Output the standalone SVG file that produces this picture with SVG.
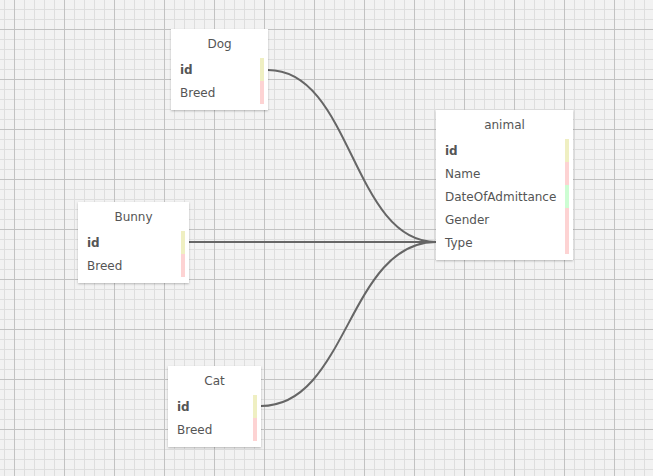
<svg xmlns="http://www.w3.org/2000/svg" width="653" height="476" viewBox="0 0 653 476">
<defs>
<pattern id="minor" x="4" y="9" width="10" height="10" patternUnits="userSpaceOnUse">
<rect x="0" y="0" width="1" height="10" fill="#dedede"/>
<rect x="0" y="0" width="10" height="1" fill="#dedede"/>
</pattern>
<pattern id="major" x="14" y="29" width="50" height="50" patternUnits="userSpaceOnUse">
<rect x="0" y="0" width="1" height="50" fill="#c2c2c2"/>
<rect x="0" y="0" width="50" height="1" fill="#c2c2c2"/>
</pattern>
<filter id="sh" x="-10%" y="-10%" width="120%" height="120%">
<feDropShadow dx="0" dy="1" stdDeviation="1.2" flood-color="#000" flood-opacity="0.25"/>
</filter>
</defs>
<style>
.box{fill:#fff;filter:url(#sh)}
.title{font-family:"DejaVu Sans",Verdana,sans-serif;font-size:12px;fill:#555;text-anchor:middle}
.f{font-family:"DejaVu Sans",Verdana,sans-serif;font-size:12px;fill:#555}
.pk{font-weight:bold}
.y{fill:#efefc2}
.p{fill:#fdd3d3}
.g{fill:#cdfdd3}
.c{fill:none;stroke:#666;stroke-width:2}
</style>
<rect width="653" height="476" fill="#f2f2f2"/>
<rect width="653" height="476" fill="url(#minor)"/>
<rect width="653" height="476" fill="url(#major)"/>
<g id="connectors">
<path class="c" d="M268,70 C352,70 352,242 436,242"/>
<path class="c" d="M189,242 L436,242"/>
<path class="c" d="M261,406 C348,406 348,242 436,242"/>
</g>
<g id="dog">
<rect class="box" x="171" y="29" width="97" height="81"/>
<text class="title" x="219.5" y="48">Dog</text>
<text class="f pk" x="180" y="74">id</text>
<text class="f" x="180" y="97">Breed</text>
<rect class="y" x="260" y="58" width="4" height="23"/>
<rect class="p" x="260" y="81" width="4" height="23"/>
</g>
<g id="bunny">
<rect class="box" x="78" y="202" width="111" height="81"/>
<text class="title" x="133.5" y="221">Bunny</text>
<text class="f pk" x="87" y="247">id</text>
<text class="f" x="87" y="270">Breed</text>
<rect class="y" x="181" y="231" width="4" height="23"/>
<rect class="p" x="181" y="254" width="4" height="23"/>
</g>
<g id="cat">
<rect class="box" x="168" y="366" width="93" height="81"/>
<text class="title" x="214.5" y="385">Cat</text>
<text class="f pk" x="177" y="411">id</text>
<text class="f" x="177" y="434">Breed</text>
<rect class="y" x="253" y="395" width="4" height="23"/>
<rect class="p" x="253" y="418" width="4" height="23"/>
</g>
<g id="animal">
<rect class="box" x="436" y="110" width="137" height="150"/>
<text class="title" x="504.5" y="129">animal</text>
<text class="f pk" x="445" y="155">id</text>
<text class="f" x="445" y="178">Name</text>
<text class="f" x="445" y="201">DateOfAdmittance</text>
<text class="f" x="445" y="224">Gender</text>
<text class="f" x="445" y="247">Type</text>
<rect class="y" x="565" y="139" width="4" height="23"/>
<rect class="p" x="565" y="162" width="4" height="23"/>
<rect class="g" x="565" y="185" width="4" height="23"/>
<rect class="p" x="565" y="208" width="4" height="46"/>
</g>
</svg>
